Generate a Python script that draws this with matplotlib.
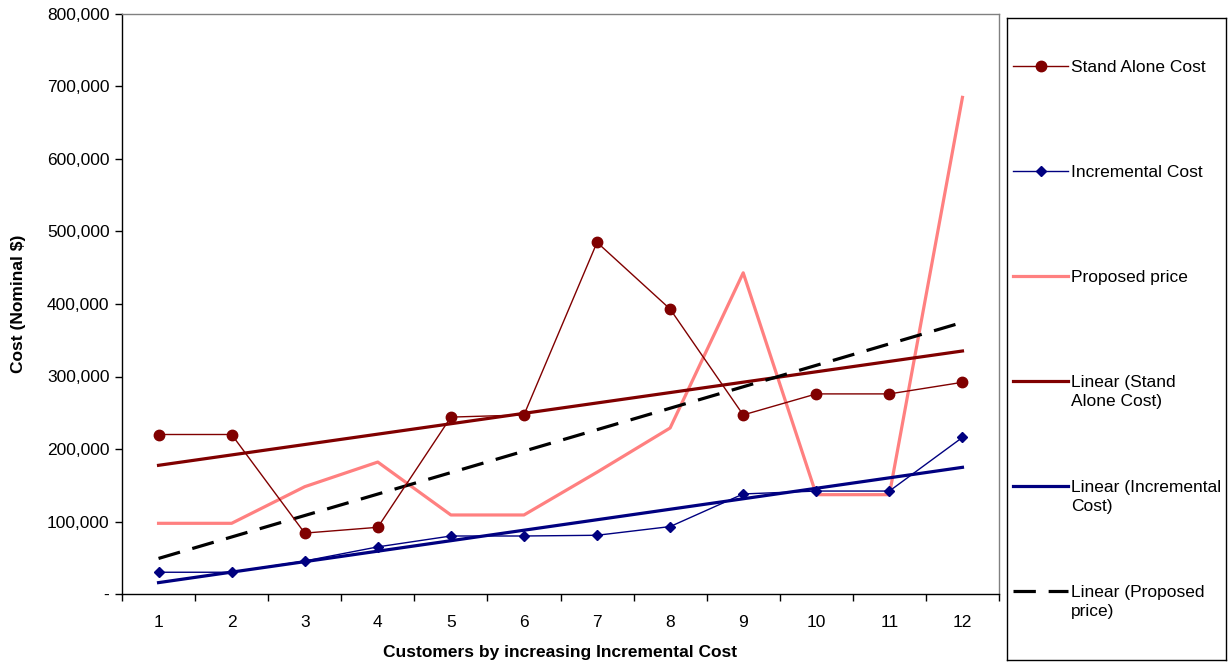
import matplotlib.pyplot as plt
import numpy as np
from matplotlib.ticker import FuncFormatter

plt.rcParams['font.family'] = ['Liberation Sans', 'DejaVu Sans']

customers = np.arange(1, 13)
stand_alone = [220000, 220000, 84000, 92000, 244000, 247000, 485000, 393000, 247000, 276000, 276000, 292000]
incremental = [30000, 30000, 45500, 65000, 80000, 80000, 81000, 93000, 138000, 142000, 142000, 216000]
proposed = [97500, 97500, 148000, 182000, 109000, 109000, 168000, 229000, 443000, 137000, 137000, 685000]

DARK_RED = '#800000'
NAVY = '#000080'
PINK = '#FF8080'
FS = 12.5

fig = plt.figure(figsize=(12.32, 6.64), dpi=100)
ax = fig.add_axes([122 / 1232, 70 / 664, 877 / 1232, 580 / 664])


def trend(y):
    k, b = np.polyfit(customers, y, 1)
    return k * customers + b


ax.plot(customers, stand_alone, color=DARK_RED, lw=1.0, marker='o', ms=7.5, zorder=4)
ax.plot(customers, incremental, color=NAVY, lw=1.0, marker='D', ms=5, zorder=4)
ax.plot(customers, proposed, color=PINK, lw=2.3, zorder=3)
ax.plot(customers, trend(stand_alone), color=DARK_RED, lw=2.3, zorder=3)
ax.plot(customers, trend(incremental), color=NAVY, lw=2.3, zorder=3)
ax.plot(customers, trend(proposed), color='black', lw=2.3, ls=(0, (7, 4)), zorder=3)

ax.set_xlim(0.5, 12.5)
ax.set_ylim(0, 800000)
ax.set_xticks(customers)
ax.set_xticks(np.arange(0.5, 13, 1), minor=True)
ax.tick_params(axis='x', which='major', length=0, pad=15, labelsize=FS)
ax.tick_params(axis='x', which='minor', length=5, direction='out', width=1)
ax.set_yticks(np.arange(0, 800001, 100000))
ax.tick_params(axis='y', length=5, direction='out', width=1, labelsize=FS, pad=4)
ax.yaxis.set_major_formatter(FuncFormatter(lambda v, p: '-' if v == 0 else f'{int(v):,}'))

for s in ['left', 'bottom']:
    ax.spines[s].set_color('black')
    ax.spines[s].set_linewidth(1)
for s in ['top', 'right']:
    ax.spines[s].set_color('#808080')
    ax.spines[s].set_linewidth(1)

ax.set_xlabel('Customers by increasing Incremental Cost', fontsize=FS, fontweight='bold', labelpad=11)
ax.set_ylabel('Cost (Nominal $)', fontsize=FS, fontweight='bold', labelpad=15)

# legend drawn in its own framed box, in pixel units
lg = fig.add_axes([1007 / 1232, 4 / 664, 219 / 1232, 642 / 664])
lg.set_xlim(1007, 1226)
lg.set_ylim(660, 18)
lg.set_xticks([])
lg.set_yticks([])
for s in lg.spines.values():
    s.set_color('black')
    s.set_linewidth(1)

entries = [
    ('Stand Alone Cost', dict(color=DARK_RED, lw=1.0, marker='o', ms=7.5), 66),
    ('Incremental Cost', dict(color=NAVY, lw=1.0, marker='D', ms=5), 171),
    ('Proposed price', dict(color=PINK, lw=2.3), 276),
    ('Linear (Stand\nAlone Cost)', dict(color=DARK_RED, lw=2.3), 381),
    ('Linear (Incremental\nCost)', dict(color=NAVY, lw=2.3), 486),
    ('Linear (Proposed\nprice)', dict(color='black', lw=2.3, ls=(0, (7, 4))), 591),
]
for label, style, y in entries:
    marker = style.pop('marker', None)
    ms = style.pop('ms', None)
    lg.plot([1013, 1068], [y, y], **style)
    if marker:
        lg.plot([1040.5], [y], marker=marker, ms=ms, color=style['color'])
    lg.text(1071, y - 6.5, label, fontsize=FS, va='top', ha='left', linespacing=1.4)

fig.savefig('out.png', dpi=100)
